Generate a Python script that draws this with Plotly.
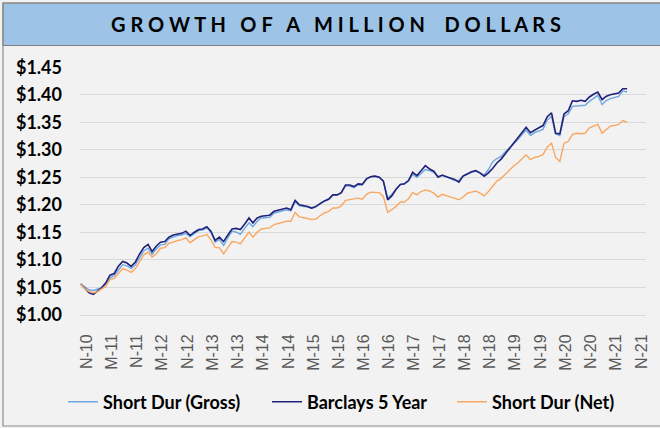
import plotly.graph_objects as go
import pandas as pd

# ---- data (month-end index values, Oct-2010 .. Aug-2021) ----
start_month = "2010-10-01"

barclays_5yr = [
    1.056, 1.047, 1.040, 1.037, 1.043, 1.049, 1.058, 1.072, 1.075, 1.088,
    1.097, 1.094, 1.088, 1.096, 1.110, 1.122, 1.128, 1.115, 1.125, 1.132,
    1.133, 1.141, 1.145, 1.147, 1.148, 1.152, 1.144, 1.150, 1.155, 1.156,
    1.160, 1.152, 1.135, 1.141, 1.133, 1.145, 1.156, 1.157, 1.155, 1.165,
    1.176, 1.167, 1.176, 1.179, 1.180, 1.181, 1.188, 1.190, 1.192, 1.194,
    1.191, 1.208, 1.200, 1.199, 1.197, 1.194, 1.197, 1.202, 1.207, 1.210,
    1.218, 1.218, 1.222, 1.236, 1.236, 1.233, 1.238, 1.237, 1.247, 1.251,
    1.252, 1.250, 1.243, 1.209, 1.216, 1.228, 1.237, 1.238, 1.244, 1.259,
    1.253, 1.262, 1.271, 1.265, 1.261, 1.250, 1.254, 1.251, 1.248, 1.246,
    1.241, 1.252, 1.256, 1.260, 1.262, 1.258, 1.252, 1.258, 1.266, 1.276,
    1.283, 1.292, 1.302, 1.313, 1.322, 1.333, 1.341, 1.331, 1.336, 1.340,
    1.344, 1.360, 1.367, 1.330, 1.329, 1.365, 1.371, 1.389, 1.388, 1.390,
    1.388, 1.396, 1.401, 1.405, 1.391, 1.397, 1.400, 1.401, 1.403, 1.411,
    1.411,
]

short_dur_gross = [
    1.056, 1.050, 1.045, 1.044, 1.046, 1.049, 1.056, 1.067, 1.071, 1.082,
    1.091, 1.089, 1.084, 1.091, 1.104, 1.116, 1.121, 1.110, 1.120, 1.127,
    1.128, 1.138, 1.141, 1.144, 1.145, 1.148, 1.142, 1.148, 1.153, 1.154,
    1.158, 1.150, 1.132, 1.137, 1.126, 1.140, 1.152, 1.150, 1.146, 1.157,
    1.167, 1.160, 1.170, 1.176, 1.177, 1.177, 1.185, 1.187, 1.189, 1.191,
    1.189, 1.206, 1.198, 1.197, 1.196, 1.193, 1.196, 1.202, 1.207, 1.211,
    1.218, 1.218, 1.221, 1.234, 1.234, 1.231, 1.236, 1.236, 1.247, 1.251,
    1.252, 1.250, 1.243, 1.212, 1.219, 1.229, 1.237, 1.237, 1.243, 1.255,
    1.250, 1.257, 1.264, 1.262, 1.259, 1.252, 1.253, 1.251, 1.248, 1.244,
    1.244, 1.252, 1.256, 1.259, 1.261, 1.257, 1.254, 1.264, 1.278, 1.284,
    1.288, 1.296, 1.303, 1.310, 1.318, 1.327, 1.336, 1.326, 1.331, 1.334,
    1.337, 1.354, 1.361, 1.329, 1.326, 1.360, 1.365, 1.379, 1.380, 1.380,
    1.381, 1.388, 1.393, 1.399, 1.382, 1.389, 1.393, 1.395, 1.397, 1.407,
    1.405,
]

short_dur_net = [
    1.056, 1.047, 1.042, 1.040, 1.042, 1.047, 1.052, 1.064, 1.066, 1.075,
    1.084, 1.081, 1.077, 1.084, 1.096, 1.109, 1.114, 1.105, 1.111, 1.121,
    1.122, 1.130, 1.132, 1.135, 1.136, 1.140, 1.131, 1.137, 1.142, 1.143,
    1.146, 1.136, 1.122, 1.122, 1.111, 1.122, 1.133, 1.132, 1.129, 1.140,
    1.150, 1.141, 1.150, 1.156, 1.157, 1.158, 1.164, 1.166, 1.169, 1.170,
    1.170, 1.186, 1.178, 1.177, 1.175, 1.173, 1.174, 1.180, 1.185, 1.188,
    1.194, 1.194, 1.198, 1.208, 1.209, 1.211, 1.212, 1.210, 1.219, 1.223,
    1.223, 1.222, 1.215, 1.186, 1.191, 1.197, 1.205, 1.205, 1.211, 1.222,
    1.218, 1.224, 1.227, 1.225, 1.221, 1.214, 1.219, 1.216, 1.214, 1.212,
    1.209, 1.214, 1.221, 1.223, 1.225, 1.221, 1.216, 1.224, 1.234, 1.243,
    1.248, 1.255, 1.262, 1.270, 1.276, 1.284, 1.291, 1.282, 1.286, 1.288,
    1.291, 1.305, 1.312, 1.286, 1.279, 1.312, 1.315, 1.328, 1.330, 1.329,
    1.330, 1.340, 1.343, 1.346, 1.330, 1.337, 1.343, 1.344, 1.346, 1.353,
    1.350,
]

tick_dates = [f"{y}-{m:02d}-01" for y in range(2010, 2022) for m in (5, 11)][1:]
tick_labels = [("M" if d[5:7] == "05" else "N") + "-" + d[2:4] for d in tick_dates]
y_ticks = [1.00, 1.05, 1.10, 1.15, 1.20, 1.25, 1.30, 1.35, 1.40, 1.45]
y_tick_labels = [f"${v:.2f}" for v in y_ticks]

dates = pd.date_range(start_month, periods=len(barclays_5yr), freq="MS")

W, H = 660, 428
L, R, T, B = 80, 14, 67, 113
pw, ph = W - L - R, H - T - B


def px_x(p):
    return (p - L) / pw


def px_y(p):
    return (H - B - p) / ph


fig = go.Figure()
fig.add_trace(go.Scatter(x=dates, y=short_dur_gross, name="Short Dur (Gross)",
                         mode="lines", line=dict(color="#6EA8E0", width=1.4),
                         legend="legend"))
fig.add_trace(go.Scatter(x=dates, y=barclays_5yr, name="Barclays 5 Year",
                         mode="lines", line=dict(color="#22227A", width=1.6),
                         legend="legend2"))
fig.add_trace(go.Scatter(x=dates, y=short_dur_net, name="Short Dur (Net)",
                         mode="lines", line=dict(color="#F9A862", width=1.4),
                         legend="legend3"))

# shift tick positions slightly to mimic Excel's label placement
tick_pos = [pd.Timestamp(d) + pd.Timedelta(days=12) for d in tick_dates]

legend_font = dict(family="Lato", size=18, color="#000000", weight="bold")


def leg(left_px):
    return dict(orientation="h", x=px_x(left_px), xanchor="left",
                y=px_y(402), yanchor="middle", font=legend_font,
                bgcolor="rgba(0,0,0,0)", itemwidth=30)


fig.update_layout(
    width=W, height=H,
    margin=dict(l=L, r=R, t=T, b=B, autoexpand=False),
    paper_bgcolor="#F2F2F2", plot_bgcolor="#F2F2F2",
    showlegend=True,
    legend=leg(63), legend2=leg(267), legend3=leg(452),
    xaxis=dict(
        type="date", range=["2010-09-26", "2021-12-16"],
        tickvals=tick_pos, ticktext=tick_labels, tickangle=-90,
        showgrid=False, zeroline=False, ticks="", automargin=False,
        showline=True, linecolor="#D9D9D9", linewidth=1,
        tickfont=dict(family="Liberation Sans", size=16, color="#595959"),
        ticklabelstandoff=12,
    ),
    yaxis=dict(
        range=[0.9995, 1.4505], tickvals=y_ticks, ticktext=y_tick_labels,
        showgrid=True, gridcolor="#D9D9D9", gridwidth=1, zeroline=False,
        ticks="", automargin=False,
        tickfont=dict(family="Lato", size=18, color="#000000", weight="bold"),
        ticklabelstandoff=17,
    ),
    shapes=[
        dict(type="rect", xref="paper", yref="paper",
             x0=px_x(3), x1=px_x(664), y0=px_y(45.5), y1=px_y(3),
             fillcolor="#9DC3E6", line=dict(color="#7F7F7F", width=1.2), layer="below"),
        dict(type="rect", xref="paper", yref="paper",
             x0=px_x(3), x1=px_x(664), y0=px_y(426), y1=px_y(3),
             fillcolor="rgba(0,0,0,0)", line=dict(color="#8C8C8C", width=1.2), layer="above"),
    ],
    annotations=[
        dict(xref="paper", yref="paper", x=px_x(336), y=px_y(24),
             xanchor="center", yanchor="middle", showarrow=False,
             text="G R O W T H   O F   A   M I L L I O N    D O L L A R S",
             font=dict(family="Lato", size=20, color="#000000", weight="bold")),
    ],
)

fig.write_html("out.html", config={"displayModeBar": False},
               post_script="document.body.style.margin='0';document.body.style.overflow='hidden';")
